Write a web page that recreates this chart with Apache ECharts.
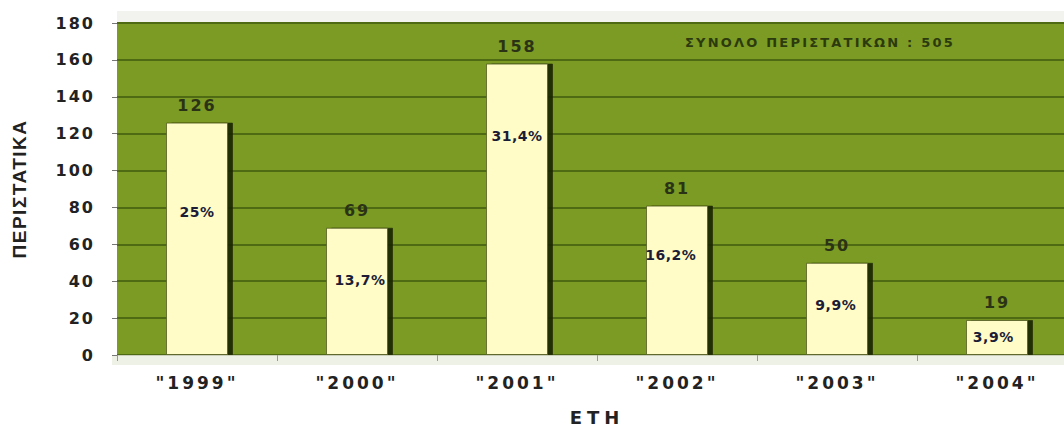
<!DOCTYPE html>
<html>
<head>
<meta charset="utf-8">
<script src="https://cdn.jsdelivr.net/npm/echarts@6/dist/echarts.min.js"></script>
<style>
  html, body { margin: 0; padding: 0; background: #fff; }
  #chart { width: 1064px; height: 430px; }
  /* wide-set bold lettering, keyed on each label's font size */
  #chart text[style*="16px"] { letter-spacing: 2px; }
  #chart text[style*="17px"] { letter-spacing: 3px; }
  #chart text[style*="18px"] { letter-spacing: 5px; }
  #chart text[style*="19px"] { letter-spacing: 1.5px; }
  #chart text[style*="14px"] { letter-spacing: 0.5px; }
  #chart text[style*="13px"] { letter-spacing: 2.2px; }
</style>
</head>
<body>
<div id="chart"></div>
<script>
// Cases per year
const years = ['"1999"', '"2000"', '"2001"', '"2002"', '"2003"', '"2004"'];
const cases = [126, 69, 158, 81, 50, 19];
const shares = ['25%', '13,7%', '31,4%', '16,2%', '9,9%', '3,9%'];
const yMin = 0, yMax = 180, yStep = 20;
const totalText = 'ΣΥΝΟΛΟ ΠΕΡΙΣΤΑΤΙΚΩΝ : 505';
const yName = 'ΠΕΡΙΣΤΑΤΙΚΑ';
const xName = 'ΕΤΗ';

// where each share label sits inside its bar (fractions of the bar box)
const shareSpot = [[0.50, 0.385], [0.55, 0.41], [0.50, 0.25], [0.40, 0.33], [0.48, 0.46], [0.44, 0.49]];

const bold = { fontFamily: 'DejaVu Sans', fontWeight: 'bold' };
const chart = echarts.init(document.getElementById('chart'), null, { renderer: 'svg' });

chart.setOption({
  animation: false,
  title: {
    text: totalText,
    left: 680, top: 31,
    textStyle: Object.assign({ fontSize: 13, color: '#2c3a0e' }, bold)
  },
  grid: {
    left: 117, top: 23, width: 960, height: 332,
    outerBoundsMode: 'none',
    containLabel: false,
    show: true, backgroundColor: '#7b9b24', borderWidth: 0
  },
  graphic: [
    { type: 'rect', z: -1, shape: { x: 117, y: 11, width: 947, height: 12 }, style: { fill: '#f2f2ee' } },
    { type: 'rect', z: -1, shape: { x: 112, y: 355, width: 952, height: 10 }, style: { fill: '#eef1e6' } }
  ],
  xAxis: {
    type: 'category',
    data: years,
    axisLine: { show: true, lineStyle: { color: '#c9cfbb', width: 1 } },
    axisTick: { show: true, length: 6, lineStyle: { color: '#999' } },
    axisLabel: Object.assign({ margin: 19, fontSize: 17, color: '#222' }, bold),
    name: xName,
    nameLocation: 'middle',
    nameGap: 53,
    nameTextStyle: Object.assign({ fontSize: 18, color: '#222' }, bold)
  },
  yAxis: {
    type: 'value',
    min: yMin, max: yMax, interval: yStep,
    axisLine: { show: false },
    axisTick: { show: true, length: 5, lineStyle: { color: '#777' } },
    axisLabel: Object.assign({ margin: 22, fontSize: 16, color: '#222' }, bold),
    splitLine: { show: true, lineStyle: { color: '#4e6a12', width: 2 } },
    name: yName,
    nameLocation: 'middle',
    nameRotate: 90,
    nameGap: 88,
    nameTextStyle: { fontFamily: 'Liberation Sans', fontWeight: 'bold', fontSize: 19, color: '#222' }
  },
  series: [
    {
      type: 'bar',
      data: cases,
      barWidth: 62,
      z: 2,
      itemStyle: {
        color: '#fffcc8',
        borderColor: 'rgba(70,80,20,0.7)',
        borderWidth: 1,
        shadowColor: 'rgba(25,35,0,0.9)',
        shadowOffsetX: 5,
        shadowOffsetY: 0,
        shadowBlur: 0
      },
      label: Object.assign({ show: true, position: 'top', distance: 9, fontSize: 16, color: '#2b3316' }, bold)
    },
    {
      // transparent twin carrying the share labels inside each bar
      type: 'bar',
      data: cases.map((v, i) => ({
        value: v,
        label: { position: [shareSpot[i][0] * 100 + '%', shareSpot[i][1] * 100 + '%'] }
      })),
      barWidth: 62,
      barGap: '-100%',
      silent: true,
      z: 3,
      itemStyle: { color: 'rgba(0,0,0,0)' },
      label: Object.assign({
        show: true,
        formatter: p => shares[p.dataIndex],
        align: 'center',
        verticalAlign: 'middle',
        fontSize: 14,
        color: '#1c1c36'
      }, bold)
    }
  ]
});
</script>
</body>
</html>
